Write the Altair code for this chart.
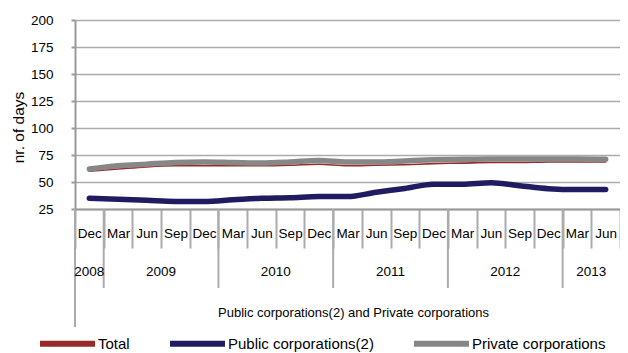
import altair as alt
import pandas as pd

# ---- data ----
months = ["Dec", "Mar", "Jun", "Sep", "Dec", "Mar", "Jun", "Sep", "Dec", "Mar",
          "Jun", "Sep", "Dec", "Mar", "Jun", "Sep", "Dec", "Mar", "Jun"]
years = ["2008", "2009", "2009", "2009", "2009", "2010", "2010", "2010", "2010", "2011",
         "2011", "2011", "2011", "2012", "2012", "2012", "2012", "2013", "2013"]
total = [60, 62, 64, 65, 65, 65, 65, 65.5, 66.5, 65, 65.5, 66, 67, 67.5, 68, 68, 68.5, 68.5, 68.5]
public = [35, 34, 33, 32, 32, 33.5, 35, 35.5, 36.5, 36.5, 40.5, 44, 48, 48, 49.3, 46.6, 43.8, 43, 43]
private = [62, 65, 66.5, 68, 68.5, 68, 67.5, 68.5, 70, 68.5, 68.5, 69.5, 70.5, 71, 71.3, 71.3, 71.3, 71.3, 71]
series_names = ["Total", "Public corporations(2)", "Private corporations"]
series_colors = ["#962B29", "#211B62", "#878787"]
series_widths = [1.6, 5.5, 5.5]
y_ticks = [25, 50, 75, 100, 125, 150, 175, 200]

FONT = "Liberation Sans, Arial, sans-serif"
GRID = "#ABABAB"

keys = [f"{y}-{m}" for y, m in zip(years, months)]
rows = []
for name, vals in zip(series_names, [total, public, private]):
    for k, v in zip(keys, vals):
        rows.append({"key": k, "series": name, "value": v})
df = pd.DataFrame(rows)

# year groups
yr_rows = []
first_idx = 0
for i in range(1, len(years) + 1):
    if i == len(years) or years[i] != years[first_idx]:
        n = i - first_idx
        if n % 2 == 0:
            mid_idx, bp = first_idx + n // 2, 0.0
        else:
            mid_idx, bp = first_idx + (n - 1) // 2, 0.5
        yr_rows.append({"year": years[first_idx], "start": keys[first_idx],
                        "mid": keys[mid_idx], "bp": bp, "first": first_idx == 0})
        first_idx = i
yr_df = pd.DataFrame(yr_rows)

xscale = alt.Scale(type="band", domain=keys, paddingInner=0, paddingOuter=0)
yscale = alt.Scale(domain=[25, 200], nice=False, zero=False)

x_axis = alt.Axis(
    labelExpr="split(datum.value, '-')[1]", labelAngle=0, labelFont=FONT,
    labelFontSize=13.5, labelColor="#000", labelPadding=-22,
    tickBand="extent", tickSize=39, tickColor=GRID, tickWidth=2,
    domainColor="#999999", domainWidth=2, grid=False,
    title="Public corporations(2) and Private corporations",
    titleFont=FONT, titleFontSize=13, titleFontWeight="normal", titleColor="#000",
    titleX=278, titleY=103, titleBaseline="middle", titleAlign="center",
)
y_axis = alt.Axis(
    values=y_ticks, labelFont=FONT, labelFontSize=13.5, labelColor="#000",
    labelPadding=18, tickSize=4, tickColor="#999999", tickWidth=2,
    domainColor="#999999", domainWidth=2, gridColor=GRID, gridWidth=1.5,
    title="nr. of days", titleFont=FONT, titleFontSize=15.5, titleFontWeight="normal",
    titleColor="#000", titleX=-52, titleY=107, titleBaseline="alphabetic",
)

color = alt.Color(
    "series:N",
    scale=alt.Scale(domain=series_names, range=series_colors),
    legend=alt.Legend(
        title=None, orient="none", legendX=-38, legendY=293, direction="horizontal",
        symbolType="stroke", symbolSize=3025, symbolStrokeWidth=6,
        labelFont=FONT, labelFontSize=15, labelColor="#000", labelOffset=0,
        columnPadding=28,
    ),
)

layers = []
for i, (name, w) in enumerate(zip(series_names, series_widths)):
    layers.append(
        alt.Chart(df).transform_filter(alt.datum.series == name)
        .mark_line(strokeWidth=w, interpolate="monotone", strokeCap="round")
        .encode(
            x=alt.X("key:N", scale=xscale, axis=x_axis),
            y=alt.Y("value:Q", scale=yscale, axis=y_axis),
            color=color,
        )
    )

year_rules = alt.Chart(yr_df).mark_rule(color=GRID, strokeWidth=2).encode(
    x=alt.X("start:N", scale=xscale, bandPosition=0),
    y=alt.value(189), y2=alt.value(268),
)
first_rule = alt.Chart(yr_df).transform_filter(alt.datum.first).mark_rule(
    color=GRID, strokeWidth=2).encode(
    x=alt.X("start:N", scale=xscale, bandPosition=0),
    y=alt.value(189), y2=alt.value(307),
)
year_text_mid = alt.Chart(yr_df).transform_filter(alt.datum.bp == 0.5).mark_text(
    font=FONT, fontSize=13.5, baseline="middle", color="#000").encode(
    x=alt.X("mid:N", scale=xscale, bandPosition=0.5),
    y=alt.value(251.5), text="year:N",
)
year_text_edge = alt.Chart(yr_df).transform_filter(alt.datum.bp == 0).mark_text(
    font=FONT, fontSize=13.5, baseline="middle", color="#000").encode(
    x=alt.X("mid:N", scale=xscale, bandPosition=0),
    y=alt.value(251.5), text="year:N",
)

chart = alt.layer(
    *layers, year_rules, first_rule, year_text_mid, year_text_edge
).properties(
    width=545, height=189,
    autosize=alt.AutoSizeParams(type="none"),
    padding={"left": 67, "top": 12, "right": 0, "bottom": 144},
    background="white",
).configure_view(strokeWidth=0)

chart.save("out.html", embed_options={"renderer": "svg", "actions": False})
